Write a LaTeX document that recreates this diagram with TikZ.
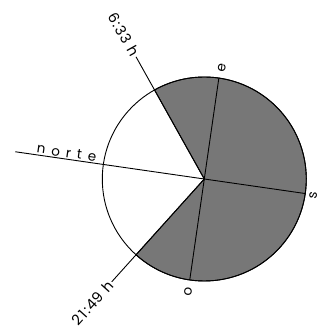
\documentclass[tikz,border=0pt]{standalone}
\usepackage{fontspec}
\setmainfont{Poppins}
\usepackage{tikz}
\usetikzlibrary{calc}
\definecolor{sombra}{RGB}{119,119,119}

\begin{document}
\begin{tikzpicture}[
		x=1pt, y=1pt,
		rumbo/.style={draw, line width=0.9pt},
		sector/.style={fill=sombra, draw, line width=0.9pt},
		lbl/.style={inner sep=1.5pt, font=\fontsize{13.5}{15}\selectfont},
		hora/.style={lbl, font=\fontsize{14.5}{16}\selectfont\addfontfeature{LetterSpace=8}},
		]
		\useasboundingbox (0,0) rectangle (321,334);
		\coordinate (c) at (204.3,155);
		
		% ── Horas de sol ──
		\filldraw[sector] (c) -- ($(c)+(228:102pt)$)
			arc[start angle=228, end angle=479.2, radius=102pt] -- cycle;
		\draw[rumbo] (c) circle[radius=102pt];
		
		% ── Rumbos ──
		\coordinate (n) at ($(c)+(171.8:191pt)$);
		\coordinate (e) at ($(c)+(81.8:102pt)$);
		\coordinate (s) at ($(c)+(-8.2:102pt)$);
		\coordinate (o) at ($(c)+(261.8:102pt)$);
		\coordinate (sale) at ($(c)+(119.2:140pt)$);
		\coordinate (pone) at ($(c)+(228:138.3pt)$);
		\draw[rumbo] (c) -- (n);
		\draw[rumbo] (c) -- (e);
		\draw[rumbo] (c) -- (s);
		\draw[rumbo] (c) -- (o);
		\draw[rumbo] (c) -- (sale);
		\draw[rumbo] (c) -- (pone);
		
		% ── Textos ──
		\node[lbl, rotate=-8.2, anchor=south] (lnorte) at ($(c)+(171.8:140pt)$)
			{\addfontfeature{LetterSpace=45}norte};
		\node[hora, rotate=-60.8, anchor=east] (lsale) at (sale) {6:33 h};
		\node[hora, rotate=48, anchor=east] (lpone) at (pone) {21:49 h};
		\node[lbl, rotate=82] (le) at ($(c)+(81.1:112.6pt)$) {e};
		\node[lbl, rotate=82] (ls) at ($(c)+(-8.4:110pt)$) {s};
		\node[lbl, rotate=82] (lo) at ($(c)+(261.8:113.9pt)$) {o};
	\end{tikzpicture}
\end{document}
